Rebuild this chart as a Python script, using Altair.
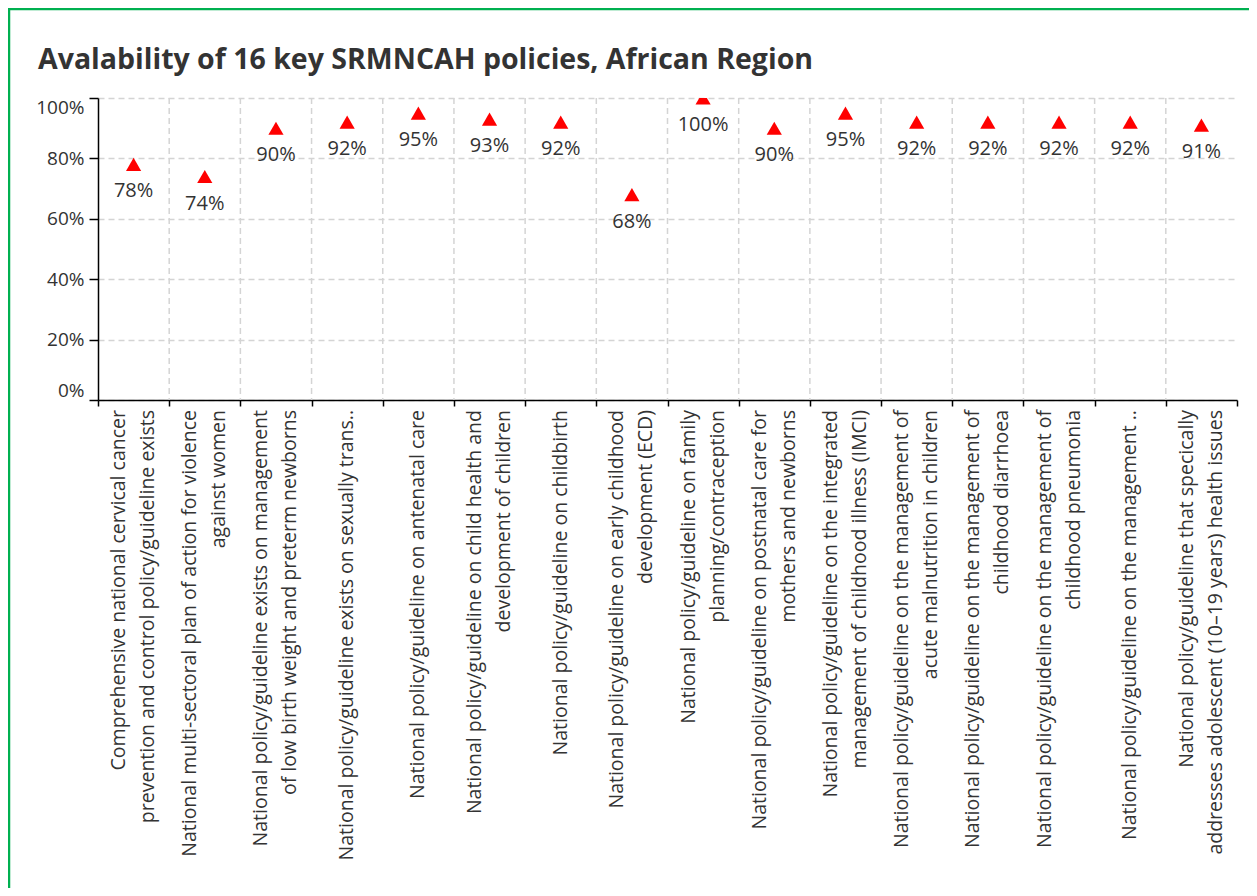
import altair as alt
import pandas as pd

title_text = "Avalability of 16 key SRMNCAH policies, African Region"

policies = [
    "Comprehensive national cervical cancer|prevention and control policy/guideline exists",
    "National multi-sectoral plan of action for violence|against women",
    "National policy/guideline exists on management|of low birth weight and preterm newborns",
    "National policy/guideline exists on sexually trans..",
    "National policy/guideline on antenatal care",
    "National policy/guideline on child health and|development of children",
    "National policy/guideline on childbirth",
    "National policy/guideline on early childhood|development (ECD)",
    "National policy/guideline on family|planning/contraception",
    "National policy/guideline on postnatal care for|mothers and newborns",
    "National policy/guideline on the integrated|management of childhood illness (IMCI)",
    "National policy/guideline on the management of|acute malnutrition in children",
    "National policy/guideline on the management of|childhood diarrhoea",
    "National policy/guideline on the management of|childhood pneumonia",
    "National policy/guideline on the management ..",
    "National policy/guideline that specically|addresses adolescent (10\u201319 years) health issues",
]
availability = [78, 74, 90, 92, 95, 93, 92, 68, 100, 90, 95, 92, 92, 92, 92, 91]
y_ticks = [0, 20, 40, 60, 80, 100]

df = pd.DataFrame({"policy": policies, "pct": availability})

FONT = "Open Sans"
TXT = "#333333"
W, H = 1139, 302
LH = 29
HALF_BAND = W / len(policies) / 2

xscale = alt.Scale(type="band", domain=policies, paddingInner=0, paddingOuter=0)
yscale = alt.Scale(domain=[0, 100], nice=False)

x_axis = alt.Axis(
    labels=False, tickBand="extent", tickSize=6, tickColor="#000000",
    tickWidth=1.5, domainColor="#000000", domainWidth=1.5, grid=False,
)
y_axis = alt.Axis(
    values=y_ticks, labelExpr="datum.value + '%'", labelFlush=True,
    labelFont=FONT, labelFontSize=19, labelColor=TXT, labelPadding=5,
    tickSize=9, tickColor="#000000", tickWidth=1.5,
    domainColor="#000000", domainWidth=1.5,
    grid=True, gridDash=[6, 4], gridColor="#d4d4d4", gridWidth=1.5,
)

base = alt.Chart(df)

vgrid = base.transform_window(rn="row_number()").transform_filter(
    "datum.rn > 1"
).mark_rule(strokeDash=[6, 4], color="#d4d4d4", strokeWidth=1.5).encode(
    x=alt.X("policy:N", sort=None, scale=xscale, bandPosition=0, axis=x_axis, title=None)
)

points = base.mark_point(shape="triangle-up", filled=True, color="#ff0000",
                         size=230, opacity=1, clip=True).encode(
    x=alt.X("policy:N", sort=None, scale=xscale, axis=x_axis, title=None),
    y=alt.Y("pct:Q", scale=yscale, axis=y_axis, title=None),
)

labels = base.transform_calculate(lab="datum.pct + '%'").mark_text(
    dy=27, font=FONT, fontSize=20, color=TXT
).encode(
    x=alt.X("policy:N", sort=None, scale=xscale, axis=x_axis, title=None),
    y=alt.Y("pct:Q", scale=yscale, axis=y_axis, title=None),
    text="lab:N",
)

cat_labels = base.transform_calculate(
    off=f"indexof(datum.policy, '|') >= 0 ? {HALF_BAND - LH / 2} : {HALF_BAND}"
).mark_text(
    angle=270, align="right", baseline="middle", lineBreak="|",
    lineHeight=LH, font=FONT, fontSize=19.5, color=TXT,
).encode(
    x=alt.X("policy:N", sort=None, scale=xscale, axis=x_axis, title=None),
    xOffset=alt.XOffset("off:Q", scale=None),
    y=alt.value(H + 10),
    text="policy:N",
)

title = alt.Chart(pd.DataFrame({"t": [title_text]})).mark_text(
    align="left", baseline="middle", font=FONT, fontSize=28.5,
    fontWeight="bold", color=TXT,
).encode(x=alt.value(-60), y=alt.value(-38), text="t:N")

border = alt.Chart(pd.DataFrame({"k": [0]})).mark_rect(
    fill=None, stroke="#00b050", strokeWidth=2.5
).encode(
    x=alt.value(-89), x2=alt.value(W + 40),
    y=alt.value(-89), y2=alt.value(H + 560),
)

chart = alt.layer(vgrid, points, labels, cat_labels, title, border).properties(
    width=W, height=H,
    autosize=alt.AutoSizeParams(type="none"),
    padding={"left": 90, "top": 90, "right": 12, "bottom": 488},
).configure_view(stroke=None)

chart.save("out.html", embed_options={"renderer": "svg", "actions": False})
